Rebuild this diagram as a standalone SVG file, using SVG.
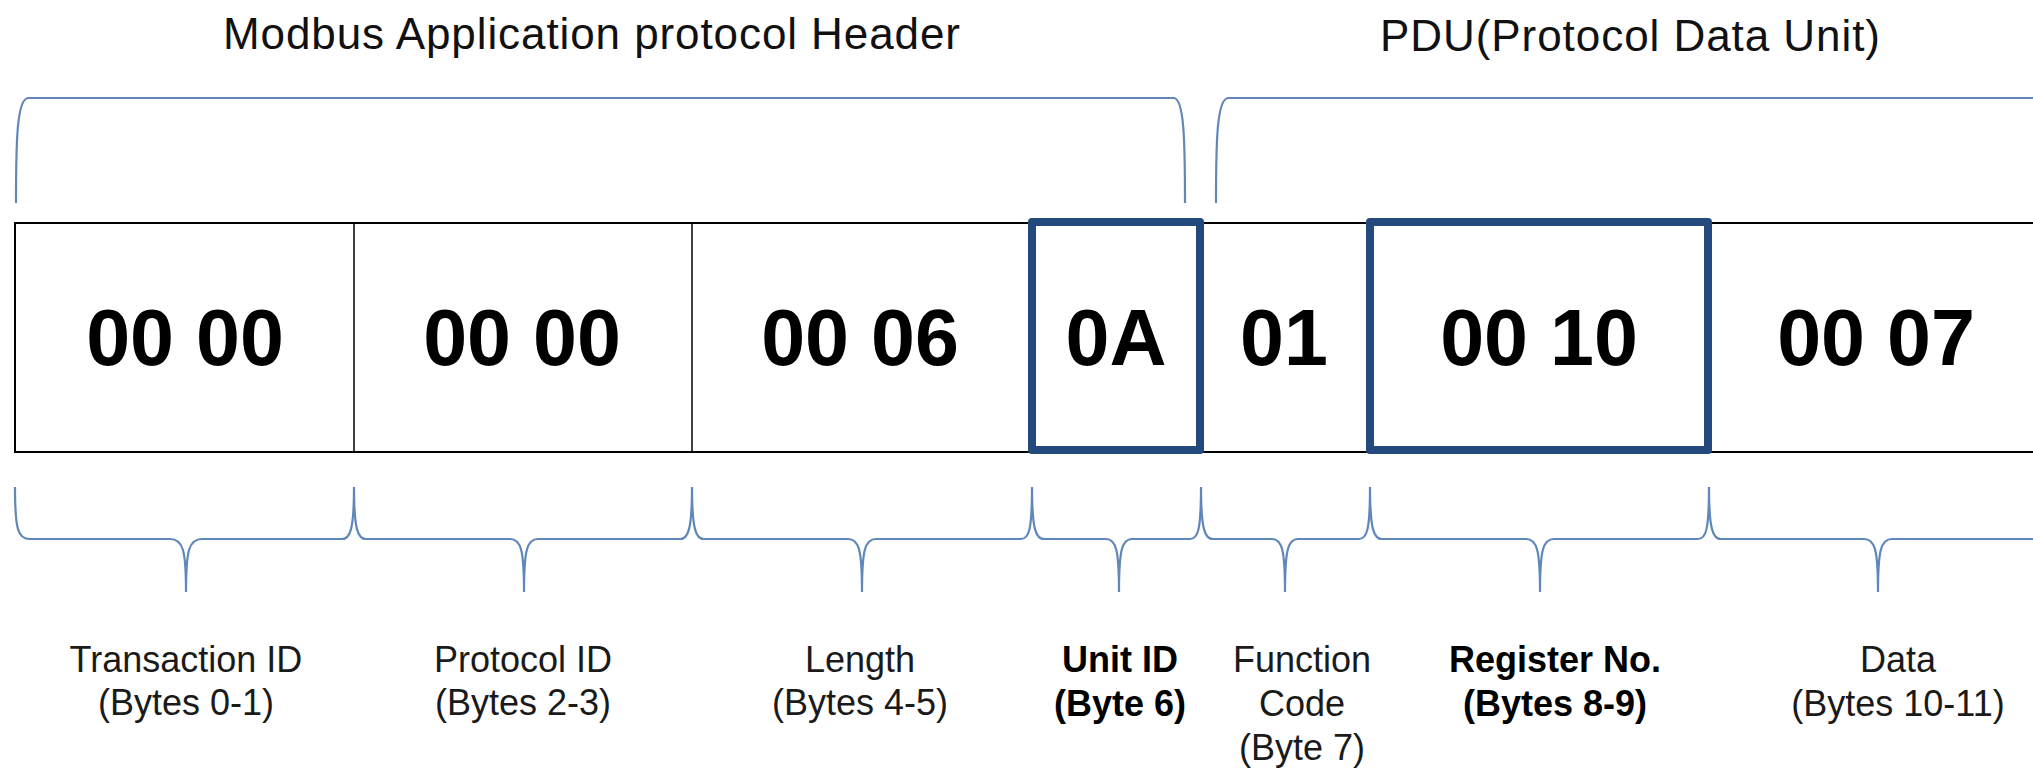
<svg xmlns="http://www.w3.org/2000/svg" width="2033" height="773" viewBox="0 0 2033 773">
<style>
.title{font-family:"Liberation Sans",Arial,sans-serif;font-size:44px;fill:#111}
.num{font-family:"Liberation Sans",Arial,sans-serif;font-size:79px;font-weight:bold;fill:#000;text-anchor:middle}
.lab{font-family:"Liberation Sans",Arial,sans-serif;font-size:36px;fill:#1a1a1a;text-anchor:middle}
.b{font-weight:bold;fill:#000}
.grid{stroke:#000;stroke-width:2;fill:none}
.div{stroke:#000;stroke-width:1.5}
.hl{fill:none;stroke:#24497c;stroke-width:8;stroke-linejoin:round}
.brace{fill:none;stroke:#5f87ba;stroke-width:2.2}
</style>
<rect width="2033" height="773" fill="#fff"/>

<g id="title-header"><text class="title" x="223" y="49" textLength="737" lengthAdjust="spacing">Modbus Application protocol Header</text></g>
<g id="title-pdu"><text class="title" x="1380" y="51" textLength="500" lengthAdjust="spacing">PDU(Protocol Data Unit)</text></g>

<g id="braces">
<path class="brace" d="M16,203 C16,140 17,99 28,98 L1174,98 C1184,99 1185,140 1185,203"/>
<path class="brace" d="M1216,203 C1216,140 1217,99 1228,98 L2033,98"/>
<path class="brace" d="M15,487 C15,530 18,539 30,539 L170,539 C183,539 186,550 186,592 C186,550 189,539 202,539 L342,539 C350,539 354,530 354,487 C354,530 358,539 366,539 L510,539 C521,539 524,550 524,592 C524,550 527,539 538,539 L680,539 C688,539 692,530 692,487 C692,530 696,539 704,539 L848,539 C859,539 862,550 862,592 C862,550 865,539 876,539 L1021,539 C1029,539 1032,530 1032,487 C1032,530 1036,539 1044,539 L1106,539 C1116,539 1119,550 1119,592 C1119,550 1122,539 1132,539 L1190,539 C1198,539 1201,530 1201,487 C1201,530 1205,539 1213,539 L1272,539 C1282,539 1285,550 1285,592 C1285,550 1288,539 1298,539 L1359,539 C1367,539 1370,530 1370,487 C1370,530 1374,539 1382,539 L1526,539 C1537,539 1540,550 1540,592 C1540,550 1543,539 1554,539 L1698,539 C1706,539 1709,530 1709,487 C1709,530 1713,539 1721,539 L1864,539 C1875,539 1878,550 1878,592 C1878,550 1881,539 1892,539 L2033,539"/>
</g>

<g id="table">
<path class="grid" d="M2033,223 L15,223 L15,452 L2033,452"/>
<line class="div" x1="354" y1="223" x2="354" y2="452"/>
<line class="div" x1="692" y1="223" x2="692" y2="452"/>
</g>

<g id="cell-transaction"><text class="num" x="185" y="365">00 00</text></g>
<g id="cell-protocol"><text class="num" x="522" y="365">00 00</text></g>
<g id="cell-length"><text class="num" x="860" y="365">00 06</text></g>
<g id="cell-unit"><rect class="hl" x="1032" y="222" width="168" height="228"/><text class="num" x="1116" y="365">0A</text></g>
<g id="cell-function"><text class="num" x="1284" y="365">01</text></g>
<g id="cell-register"><rect class="hl" x="1370" y="222" width="338" height="228"/><text class="num" x="1539" y="365">00 10</text></g>
<g id="cell-data"><text class="num" x="1876" y="365">00 07</text></g>

<g id="label-transaction"><text class="lab" x="186" y="672">Transaction ID</text><text class="lab" x="186" y="715">(Bytes 0-1)</text></g>
<g id="label-protocol"><text class="lab" x="523" y="672">Protocol ID</text><text class="lab" x="523" y="715">(Bytes 2-3)</text></g>
<g id="label-length"><text class="lab" x="860" y="672">Length</text><text class="lab" x="860" y="715">(Bytes 4-5)</text></g>
<g id="label-unit"><text class="lab b" x="1120" y="672">Unit ID</text><text class="lab b" x="1120" y="716">(Byte 6)</text></g>
<g id="label-function"><text class="lab" x="1302" y="672">Function</text><text class="lab" x="1302" y="716">Code</text><text class="lab" x="1302" y="760">(Byte 7)</text></g>
<g id="label-register"><text class="lab b" x="1555" y="672">Register No.</text><text class="lab b" x="1555" y="716">(Bytes 8-9)</text></g>
<g id="label-data"><text class="lab" x="1898" y="672">Data</text><text class="lab" x="1898" y="716">(Bytes 10-11)</text></g>
</svg>
